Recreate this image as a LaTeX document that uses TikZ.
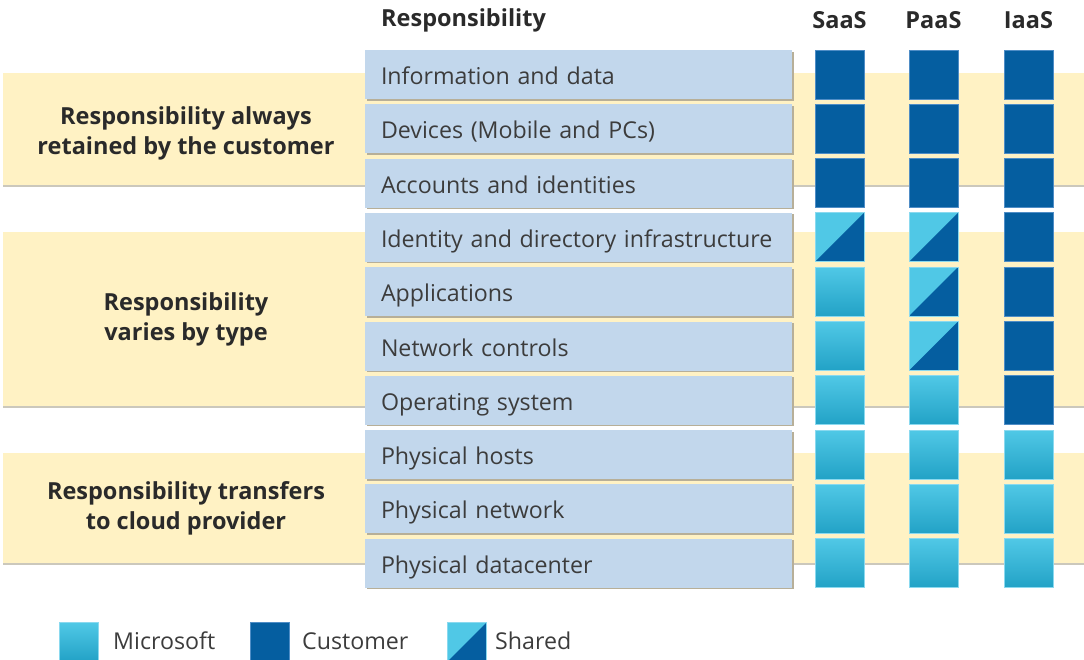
\documentclass[tikz,border=0pt]{standalone}
\usepackage{fontspec}
\setmainfont{Open Sans}
\definecolor{bandc}{HTML}{FFF2C4}
\definecolor{bandsh}{HTML}{CBC8BC}
\definecolor{boxc}{HTML}{C2D7EC}
\definecolor{boxsh}{HTML}{B7AF98}
\definecolor{darkc}{HTML}{055EA0}
\definecolor{darkedge}{HTML}{4F8DC6}
\definecolor{cyanc}{HTML}{50C8E6}
\definecolor{cyand}{HTML}{22A2C6}
\definecolor{cyanedge}{HTML}{8AD9EF}
\definecolor{txt}{HTML}{3C3C3C}
\definecolor{hdr}{HTML}{2A2A2A}
\begin{document}
\begin{tikzpicture}[x=1pt,y=-1pt,
  band/.style={rectangle, fill=bandc, inner sep=0, anchor=north west, minimum width=1081pt,
    preaction={fill=bandsh, transform canvas={yshift=-2pt}}},
  bandlabel/.style={align=center, text=hdr, font=\fontsize{23.5}{30}\selectfont\bfseries},
  rowbox/.style={rectangle, fill=boxc, inner ysep=0, inner xsep=16pt, minimum height=49pt,
    text width=395pt, text height=25pt, text depth=5pt, align=left, text=txt, font=\fontsize{23.2}{27}\selectfont,
    preaction={fill=boxsh, transform canvas={xshift=1.6pt,yshift=-1.6pt}}},
  sq/.style={rectangle, minimum width=49pt, minimum height=49pt, inner sep=0, line width=0.8pt},
  C/.style={sq, fill=darkc, draw=darkedge},
  M/.style={sq, top color=cyanc, middle color=cyanc!96!cyand, bottom color=cyand, draw=cyanedge},
  S/.style={sq, fill=cyanc, draw=cyanedge, path picture={\fill[darkc] (path picture bounding box.south west) -- (path picture bounding box.south east) -- (path picture bounding box.north east) -- cycle;}},
  hd/.style={text=hdr, inner sep=0, font=\fontsize{23.5}{27}\selectfont\bfseries},
  legtext/.style={anchor=west, inner sep=0, text=txt, font=\fontsize{23.2}{27}\selectfont}
]
\useasboundingbox (0,0) rectangle (1084,660);

% bands
\node[band, minimum height=112pt] (band1) at (3,73) {};
\node[band, minimum height=174pt] (band2) at (3,232) {};
\node[band, minimum height=110pt] (band3) at (3,453) {};

\node[bandlabel] (lab1) at (186,133) {Responsibility always\\retained by the customer};
\node[bandlabel] (lab2) at (186,319) {Responsibility\\varies by type};
\node[bandlabel] (lab3) at (186,508) {Responsibility transfers\\to cloud provider};

% headers
\node[hd, anchor=west] (hresp) at (381,20) {Responsibility};
\node[hd] (hsaas) at (839.5,20) {SaaS};
\node[hd] (hpaas) at (933.5,20) {PaaS};
\node[hd] (hiaas) at (1028.5,20) {IaaS};

% rows
\foreach \t/\a/\b/\c [count=\i from 0] in {
  Information and data/C/C/C,
  Devices (Mobile and PCs)/C/C/C,
  Accounts and identities/C/C/C,
  Identity and directory infrastructure/S/S/C,
  Applications/M/S/C,
  Network controls/M/S/C,
  Operating system/M/M/C,
  Physical hosts/M/M/M,
  Physical network/M/M/M,
  Physical datacenter/M/M/M}{
  \node[rowbox] (row\i) at (578.5,{74.5+54.3*\i}) {\t};
  \node[\a] (s\i) at (839.5,{74.5+54.3*\i}) {};
  \node[\b] (p\i) at (933.5,{74.5+54.3*\i}) {};
  \node[\c] (q\i) at (1028.5,{74.5+54.3*\i}) {};
}

% legend
\node[M, minimum width=39pt, minimum height=39pt] (legm) at (79,642) {};
\node[legtext] (legmt) at (113,641) {Microsoft};
\node[C, minimum width=39pt, minimum height=39pt] (legc) at (270,642) {};
\node[legtext] (legct) at (302,641) {Customer};
\node[S, minimum width=39pt, minimum height=39pt] (legs) at (467,642) {};
\node[legtext] (legst) at (495,641) {Shared};
\end{tikzpicture}
\end{document}
